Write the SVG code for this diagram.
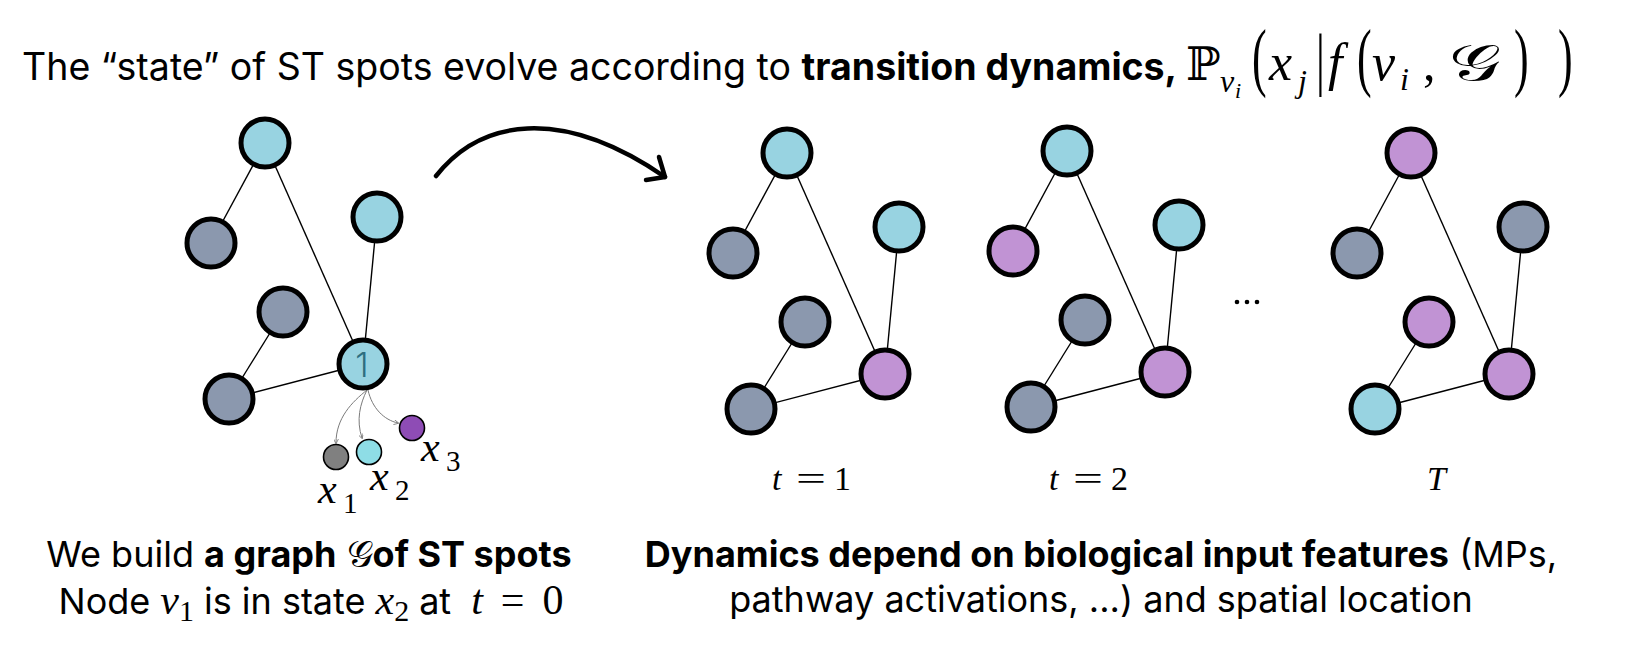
<svg xmlns="http://www.w3.org/2000/svg" width="1628" height="658" viewBox="0 0 1628 658">
<defs>
<style>
.bg{fill:#ffffff}
.txt{font-family:Inter,"Noto Sans","Liberation Sans",sans-serif;fill:#000}
.b{font-weight:700}
.m{font-family:"Liberation Serif","DejaVu Serif",serif;fill:#000}
.mi{font-family:"Liberation Serif","DejaVu Serif",serif;font-style:italic;fill:#000}
.bb{font-family:"DejaVu Serif","DejaVu Sans",serif;fill:#000}
.cal{font-family:"DejaVu Serif","DejaVu Sans","Noto Sans",serif;fill:#000}
.node{stroke:#000;stroke-width:5}
.cy{fill:#98d3e1}
.gr{fill:#8b98ae}
.pu{fill:#c193d4}
.edge{stroke:#000;stroke-width:1.4;fill:none}
.sm{stroke:#7a7a7a;stroke-width:1;fill:none}
.state{stroke:#000;stroke-width:1.6}
</style>
<marker id="tiny" viewBox="0 0 6 6" refX="5" refY="3" markerWidth="5" markerHeight="5" orient="auto" markerUnits="userSpaceOnUse">
<path d="M0,0 L6,3 L0,6" fill="none" stroke="#7a7a7a" stroke-width="1"/>
</marker>
</defs>
<rect class="bg" x="0" y="0" width="1628" height="658"/>

<!-- Title -->
<g id="title">
<text class="txt" x="22" y="80" font-size="37.5">The “state” of ST spots evolve according to <tspan class="b">transition dynamics,</tspan></text>
<text class="bb" x="1186" y="80" font-size="46">ℙ</text>
<text class="mi" x="1220" y="92" font-size="32">v</text>
<text class="mi" x="1235" y="98" font-size="22">i</text>
<text class="m" font-size="44" transform="translate(1252,82) scale(1,1.75)">(</text>
<text class="mi" x="1269" y="80" font-size="52">x</text>
<text class="mi" x="1298" y="92" font-size="32">j</text>
<text class="m" font-size="44" transform="translate(1316,82) scale(1,1.6)">|</text>
<text class="mi" x="1328" y="80" font-size="52">f</text>
<text class="m" font-size="44" transform="translate(1357,82) scale(1,1.75)">(</text>
<text class="mi" x="1372" y="80" font-size="52">v</text>
<text class="mi" x="1400" y="90" font-size="32">i</text>
<text class="m" x="1423" y="80" font-size="50">,</text>
<text class="cal" font-size="50" transform="translate(1449,80) scale(1.45,1)">𝒢</text>
<text class="m" font-size="44" transform="translate(1514,82) scale(1,1.75)">)</text>
<text class="m" font-size="44" transform="translate(1558,82) scale(1,1.75)">)</text>
</g>

<!-- Connectors -->
<g id="connectors">
<g id="edges-g0">
<line class="edge" x1="265" y1="143" x2="211" y2="243"/>
<line class="edge" x1="265" y1="143" x2="363" y2="364"/>
<line class="edge" x1="377" y1="217" x2="363" y2="364"/>
<line class="edge" x1="283" y1="312" x2="229" y2="399"/>
<line class="edge" x1="229" y1="399" x2="363" y2="364"/>
</g>
<g id="edges-g1" transform="translate(522,10)">
<line class="edge" x1="265" y1="143" x2="211" y2="243"/>
<line class="edge" x1="265" y1="143" x2="363" y2="364"/>
<line class="edge" x1="377" y1="217" x2="363" y2="364"/>
<line class="edge" x1="283" y1="312" x2="229" y2="399"/>
<line class="edge" x1="229" y1="399" x2="363" y2="364"/>
</g>
<g id="edges-g2" transform="translate(802,8)">
<line class="edge" x1="265" y1="143" x2="211" y2="243"/>
<line class="edge" x1="265" y1="143" x2="363" y2="364"/>
<line class="edge" x1="377" y1="217" x2="363" y2="364"/>
<line class="edge" x1="283" y1="312" x2="229" y2="399"/>
<line class="edge" x1="229" y1="399" x2="363" y2="364"/>
</g>
<g id="edges-g3" transform="translate(1146,10)">
<line class="edge" x1="265" y1="143" x2="211" y2="243"/>
<line class="edge" x1="265" y1="143" x2="363" y2="364"/>
<line class="edge" x1="377" y1="217" x2="363" y2="364"/>
<line class="edge" x1="283" y1="312" x2="229" y2="399"/>
<line class="edge" x1="229" y1="399" x2="363" y2="364"/>
</g>
<path class="sm" d="M367,390 C352,402 336,418 336,443" marker-end="url(#tiny)"/>
<path class="sm" d="M367,390 C360,404 356,420 362,438" marker-end="url(#tiny)"/>
<path class="sm" d="M368,390 C372,408 384,420 398,423" marker-end="url(#tiny)"/>
<path d="M436,176 C480,120 560,105 665,177" fill="none" stroke="#000" stroke-width="4.5" stroke-linecap="round"/>
<path d="M659,157 L665,177 L646,180" fill="none" stroke="#000" stroke-width="4.5" stroke-linecap="round" stroke-linejoin="round"/>
</g>

<!-- Graph 0 (t = 0) -->
<g id="g0">
<g id="g0-a"><circle class="node cy" cx="265" cy="143" r="24"/></g>
<g id="g0-b"><circle class="node gr" cx="211" cy="243" r="24"/></g>
<g id="g0-c"><circle class="node cy" cx="377" cy="217" r="24"/></g>
<g id="g0-d"><circle class="node gr" cx="283" cy="312" r="24"/></g>
<g id="g0-e"><circle class="node gr" cx="229" cy="399" r="24"/></g>
<g id="g0-f"><circle class="node cy" cx="363" cy="364" r="24"/>
<text class="txt" x="362" y="377" font-size="34" font-weight="300" text-anchor="middle" style="fill:#2d6e80">1</text></g>
</g>

<!-- state options -->
<g id="state-x1"><circle class="state" cx="336" cy="457" r="12.5" fill="#808080"/>
<text class="mi" x="318" y="503" font-size="42">x</text><text class="m" x="343" y="513" font-size="29">1</text></g>
<g id="state-x2"><circle class="state" cx="369" cy="452" r="12.5" fill="#8edde6"/>
<text class="mi" x="370" y="490" font-size="42">x</text><text class="m" x="395" y="500" font-size="29">2</text></g>
<g id="state-x3"><circle class="state" cx="412" cy="428" r="12.5" fill="#8e4cb5"/>
<text class="mi" x="421" y="461" font-size="42">x</text><text class="m" x="446" y="471" font-size="29">3</text></g>

<!-- Graph 1 (t = 1) -->
<g id="g1" transform="translate(522,10)">
<g id="g1-a"><circle class="node cy" cx="265" cy="143" r="24"/></g>
<g id="g1-b"><circle class="node gr" cx="211" cy="243" r="24"/></g>
<g id="g1-c"><circle class="node cy" cx="377" cy="217" r="24"/></g>
<g id="g1-d"><circle class="node gr" cx="283" cy="312" r="24"/></g>
<g id="g1-e"><circle class="node gr" cx="229" cy="399" r="24"/></g>
<g id="g1-f"><circle class="node pu" cx="363" cy="364" r="24"/></g>
</g>

<!-- Graph 2 (t = 2) -->
<g id="g2" transform="translate(802,8)">
<g id="g2-a"><circle class="node cy" cx="265" cy="143" r="24"/></g>
<g id="g2-b"><circle class="node pu" cx="211" cy="243" r="24"/></g>
<g id="g2-c"><circle class="node cy" cx="377" cy="217" r="24"/></g>
<g id="g2-d"><circle class="node gr" cx="283" cy="312" r="24"/></g>
<g id="g2-e"><circle class="node gr" cx="229" cy="399" r="24"/></g>
<g id="g2-f"><circle class="node pu" cx="363" cy="364" r="24"/></g>
</g>

<!-- Graph 3 (T) -->
<g id="g3" transform="translate(1146,10)">
<g id="g3-a"><circle class="node pu" cx="265" cy="143" r="24"/></g>
<g id="g3-b"><circle class="node gr" cx="211" cy="243" r="24"/></g>
<g id="g3-c"><circle class="node gr" cx="377" cy="217" r="24"/></g>
<g id="g3-d"><circle class="node pu" cx="283" cy="312" r="24"/></g>
<g id="g3-e"><circle class="node cy" cx="229" cy="399" r="24"/></g>
<g id="g3-f"><circle class="node pu" cx="363" cy="364" r="24"/></g>
</g>

<!-- ellipsis -->
<g id="ellipsis" fill="#000">
<circle cx="1237" cy="302" r="2.3"/><circle cx="1247" cy="302" r="2.3"/><circle cx="1257" cy="302" r="2.3"/>
</g>

<!-- time labels -->
<g id="label-t1"><text class="mi" x="772" y="490" font-size="34">t</text><text class="m" x="796" y="490" font-size="34" textLength="30" lengthAdjust="spacingAndGlyphs">=</text><text class="m" x="834" y="490" font-size="34">1</text></g>
<g id="label-t2"><text class="mi" x="1049" y="490" font-size="34">t</text><text class="m" x="1073" y="490" font-size="34" textLength="30" lengthAdjust="spacingAndGlyphs">=</text><text class="m" x="1111" y="490" font-size="34">2</text></g>
<g id="label-T"><text class="mi" x="1427" y="490" font-size="34">T</text></g>

<!-- captions -->
<g id="caption-left">
<text class="txt" x="309" y="567" font-size="36" text-anchor="middle">We build <tspan class="b">a graph</tspan> <tspan class="cal" font-size="37">𝒢</tspan><tspan class="b">of ST spots</tspan></text>
<text class="txt" x="311" y="614" font-size="36" text-anchor="middle">Node<tspan class="mi" font-size="42" dx="10">v</tspan><tspan class="m" font-size="30" dy="7">1</tspan><tspan dy="-7" dx="10">is in state</tspan><tspan class="mi" font-size="42" dx="10">x</tspan><tspan class="m" font-size="30" dy="7">2</tspan><tspan dy="-7" dx="10">at</tspan><tspan class="mi" font-size="42" dx="20">t</tspan><tspan class="m" font-size="42" dx="18">=</tspan><tspan class="m" font-size="42" dx="18">0</tspan></text>
</g>
<g id="caption-right">
<text class="txt" x="1101" y="567" font-size="36" text-anchor="middle"><tspan class="b">Dynamics depend on biological input features</tspan> (MPs,</text>
<text class="txt" x="1101" y="612" font-size="36" text-anchor="middle">pathway activations, ...) and spatial location</text>
</g>
</svg>
